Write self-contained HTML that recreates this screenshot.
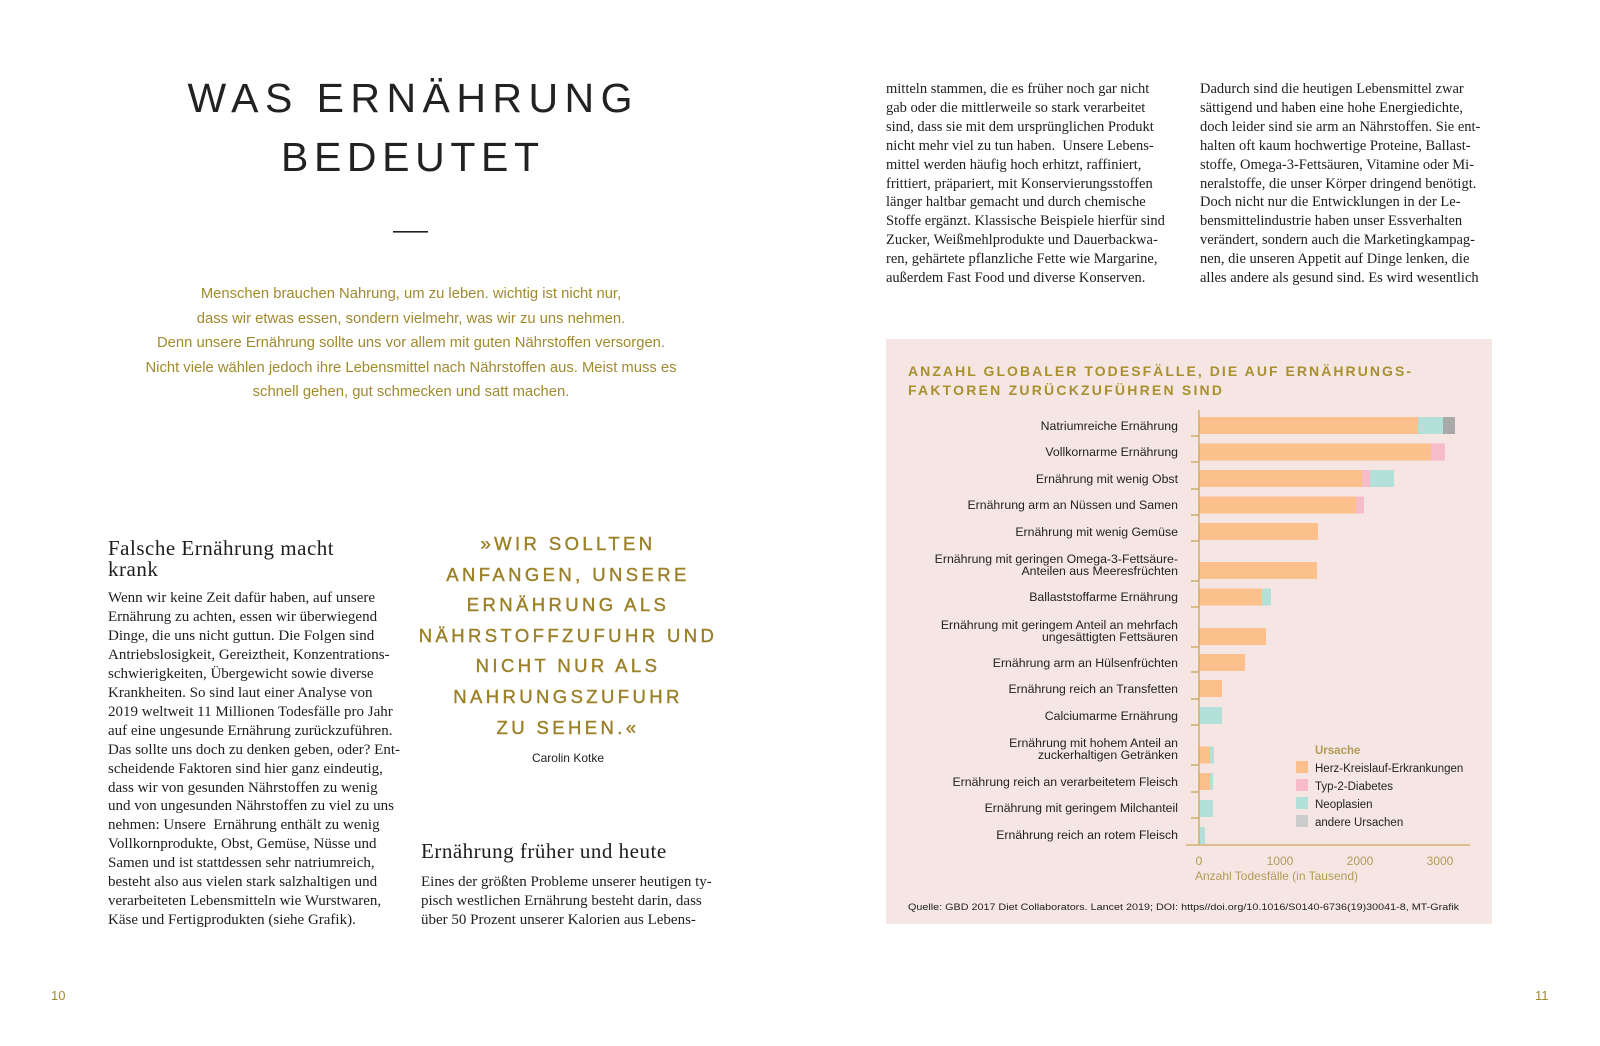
<!DOCTYPE html>
<html><head><meta charset="utf-8">
<style>
body{margin:0;background:#fff;}
#p{position:relative;width:1600px;height:1046px;overflow:hidden;background:#fff;}
.a{position:absolute;white-space:nowrap;}
.serif{font-family:"Liberation Serif",serif;color:#1e1e1e;}
.body{font-size:14.5px;line-height:18.9px;}
.body2{font-size:15px;line-height:18.95px;}
.gold{color:#a08a2e;}
.intro{font-family:"Liberation Sans",sans-serif;font-size:14.8px;line-height:24.5px;text-align:center;color:#a08a2e;}
.q{font-family:"Liberation Sans",sans-serif;font-size:18.5px;letter-spacing:3.4px;line-height:30.6px;text-align:center;color:#9c802a;-webkit-text-stroke:0.4px #9c802a;}
</style></head><body><div id="p">

<svg class="a" style="left:0;top:0" width="1600" height="1046">
<text x="410" y="112" text-anchor="middle" font-family="Liberation Sans" font-size="41" fill="#222" textLength="445" lengthAdjust="spacing">WAS ERNÄHRUNG</text>
<text x="410" y="171" text-anchor="middle" font-family="Liberation Sans" font-size="41" fill="#222" textLength="258" lengthAdjust="spacing">BEDEUTET</text>
<rect x="393" y="231" width="35" height="1.6" fill="#222"/>
</svg>

<div class="a intro" style="left:61px;top:282px;width:700px;">Menschen brauchen Nahrung, um zu leben. wichtig ist nicht nur,<br>dass wir etwas essen, sondern vielmehr, was wir zu uns nehmen.<br>Denn unsere Ernährung sollte uns vor allem mit guten Nährstoffen versorgen.<br>Nicht viele wählen jedoch ihre Lebensmittel nach Nährstoffen aus. Meist muss es<br>schnell gehen, gut schmecken und satt machen.</div>

<div class="a serif" style="left:108px;top:538px;font-size:21px;line-height:21px;letter-spacing:0.5px;">Falsche Ernährung macht<br>krank</div>
<div class="a serif body2" style="left:108px;top:589px;">Wenn wir keine Zeit dafür haben, auf unsere<br>Ernährung zu achten, essen wir überwiegend<br>Dinge, die uns nicht guttun. Die Folgen sind<br>Antriebslosigkeit, Gereiztheit, Konzentrations-<br>schwierigkeiten, Übergewicht sowie diverse<br>Krankheiten. So sind laut einer Analyse von<br>2019 weltweit 11 Millionen Todesfälle pro Jahr<br>auf eine ungesunde Ernährung zurückzuführen.<br>Das sollte uns doch zu denken geben, oder? Ent-<br>scheidende Faktoren sind hier ganz eindeutig,<br>dass wir von gesunden Nährstoffen zu wenig<br>und von ungesunden Nährstoffen zu viel zu uns<br>nehmen: Unsere&nbsp; Ernährung enthält zu wenig<br>Vollkornprodukte, Obst, Gemüse, Nüsse und<br>Samen und ist stattdessen sehr natriumreich,<br>besteht also aus vielen stark salzhaltigen und<br>verarbeiteten Lebensmitteln wie Wurstwaren,<br>Käse und Fertigprodukten (siehe Grafik).</div>

<div class="a q" style="left:408px;top:529px;width:320px;">»WIR SOLLTEN<br>ANFANGEN, UNSERE<br>ERNÄHRUNG ALS<br>NÄHRSTOFFZUFUHR UND<br>NICHT NUR ALS<br>NAHRUNGSZUFUHR<br>ZU SEHEN.«</div>
<div class="a" style="left:468px;top:751px;width:200px;text-align:center;font-family:'Liberation Sans',sans-serif;font-size:12px;color:#222;">Carolin Kotke</div>

<div class="a serif" style="left:421px;top:839px;font-size:21px;letter-spacing:0.5px;">Ernährung früher und heute</div>
<div class="a serif body2" style="left:421px;top:873px;">Eines der größten Probleme unserer heutigen ty-<br>pisch westlichen Ernährung besteht darin, dass<br>über 50 Prozent unserer Kalorien aus Lebens-</div>

<div class="a serif body" style="left:886px;top:80px;">mitteln stammen, die es früher noch gar nicht<br>gab oder die mittlerweile so stark verarbeitet<br>sind, dass sie mit dem ursprünglichen Produkt<br>nicht mehr viel zu tun haben.&nbsp; Unsere Lebens-<br>mittel werden häufig hoch erhitzt, raffiniert,<br>frittiert, präpariert, mit Konservierungsstoffen<br>länger haltbar gemacht und durch chemische<br>Stoffe ergänzt. Klassische Beispiele hierfür sind<br>Zucker, Weißmehlprodukte und Dauerbackwa-<br>ren, gehärtete pflanzliche Fette wie Margarine,<br>außerdem Fast Food und diverse Konserven.</div>
<div class="a serif body" style="left:1200px;top:80px;">Dadurch sind die heutigen Lebensmittel zwar<br>sättigend und haben eine hohe Energiedichte,<br>doch leider sind sie arm an Nährstoffen. Sie ent-<br>halten oft kaum hochwertige Proteine, Ballast-<br>stoffe, Omega-3-Fettsäuren, Vitamine oder Mi-<br>neralstoffe, die unser Körper dringend benötigt.<br>Doch nicht nur die Entwicklungen in der Le-<br>bensmittelindustrie haben unser Essverhalten<br>verändert, sondern auch die Marketingkampag-<br>nen, die unseren Appetit auf Dinge lenken, die<br>alles andere als gesund sind. Es wird wesentlich</div>

<svg class="a" style="left:0;top:0" width="1600" height="1046" font-family="Liberation Sans">
<rect x="886" y="339" width="606" height="585" fill="#f6e6e3"/>
<text x="908" y="376" font-size="14" font-weight="bold" fill="#a8902f" textLength="503" lengthAdjust="spacing">ANZAHL GLOBALER TODESFÄLLE, DIE AUF ERNÄHRUNGS-</text>
<text x="908" y="395" font-size="14" font-weight="bold" fill="#a8902f" textLength="314" lengthAdjust="spacing">FAKTOREN ZURÜCKZUFÜHREN SIND</text>
<g fill="#222" font-size="12.3" text-anchor="end">
<text x="1178" y="430">Natriumreiche Ernährung</text>
<text x="1178" y="456">Vollkornarme Ernährung</text>
<text x="1178" y="483">Ernährung mit wenig Obst</text>
<text x="1178" y="509">Ernährung arm an Nüssen und Samen</text>
<text x="1178" y="536">Ernährung mit wenig Gemüse</text>
<text x="1178" y="563">Ernährung mit geringen Omega-3-Fettsäure-</text>
<text x="1178" y="575">Anteilen aus Meeresfrüchten</text>
<text x="1178" y="601">Ballaststoffarme Ernährung</text>
<text x="1178" y="629">Ernährung mit geringem Anteil an mehrfach</text>
<text x="1178" y="641">ungesättigten Fettsäuren</text>
<text x="1178" y="667">Ernährung arm an Hülsenfrüchten</text>
<text x="1178" y="693">Ernährung reich an Transfetten</text>
<text x="1178" y="720">Calciumarme Ernährung</text>
<text x="1178" y="747">Ernährung mit hohem Anteil an</text>
<text x="1178" y="759">zuckerhaltigen Getränken</text>
<text x="1178" y="786">Ernährung reich an verarbeitetem Fleisch</text>
<text x="1178" y="812">Ernährung mit geringem Milchanteil</text>
<text x="1178" y="839">Ernährung reich an rotem Fleisch</text>
</g>
<g>
<rect x="1199" y="417" width="219" height="17" fill="#fcc08c"/><rect x="1418" y="417" width="25" height="17" fill="#b3e0d8"/><rect x="1443" y="417" width="12" height="17" fill="#a9a9a9"/>
<rect x="1199" y="443.5" width="232" height="17" fill="#fcc08c"/><rect x="1431" y="443.5" width="14" height="17" fill="#f6bdc8"/>
<rect x="1199" y="470" width="163" height="17" fill="#fcc08c"/><rect x="1362" y="470" width="8" height="17" fill="#f6bdc8"/><rect x="1370" y="470" width="24" height="17" fill="#b3e0d8"/>
<rect x="1199" y="496.5" width="157" height="17" fill="#fcc08c"/><rect x="1356" y="496.5" width="8" height="17" fill="#f6bdc8"/>
<rect x="1199" y="523" width="119" height="17" fill="#fcc08c"/>
<rect x="1199" y="562" width="118" height="17" fill="#fcc08c"/>
<rect x="1199" y="588.5" width="63" height="17" fill="#fcc08c"/><rect x="1262" y="588.5" width="9" height="17" fill="#b3e0d8"/>
<rect x="1199" y="628" width="67" height="17" fill="#fcc08c"/>
<rect x="1199" y="654" width="46" height="17" fill="#fcc08c"/>
<rect x="1199" y="680" width="23" height="17" fill="#fcc08c"/>
<rect x="1199" y="707" width="23" height="17" fill="#b3e0d8"/>
<rect x="1199" y="746.5" width="11" height="17" fill="#fcc08c"/><rect x="1210" y="746.5" width="4" height="17" fill="#b3e0d8"/>
<rect x="1199" y="773" width="11" height="17" fill="#fcc08c"/><rect x="1210" y="773" width="3" height="17" fill="#b3e0d8"/>
<rect x="1199" y="800" width="14" height="17" fill="#b3e0d8"/>
<rect x="1199" y="827" width="6" height="17" fill="#b3e0d8"/>
</g>
<g stroke="#c9a75a" stroke-width="1.3">
<line x1="1199" y1="410" x2="1199" y2="845"/>
<line x1="1186" y1="845" x2="1470" y2="845"/>
<line x1="1191" y1="436" x2="1199" y2="436"/><line x1="1191" y1="462" x2="1199" y2="462"/><line x1="1191" y1="489" x2="1199" y2="489"/><line x1="1191" y1="515" x2="1199" y2="515"/><line x1="1191" y1="541" x2="1199" y2="541"/><line x1="1191" y1="581" x2="1199" y2="581"/><line x1="1191" y1="607" x2="1199" y2="607"/><line x1="1191" y1="647" x2="1199" y2="647"/><line x1="1191" y1="672" x2="1199" y2="672"/><line x1="1191" y1="699" x2="1199" y2="699"/><line x1="1191" y1="725" x2="1199" y2="725"/><line x1="1191" y1="765" x2="1199" y2="765"/><line x1="1191" y1="792" x2="1199" y2="792"/><line x1="1191" y1="818" x2="1199" y2="818"/>
</g>
<g fill="#b39a55" font-size="12" text-anchor="middle">
<text x="1199" y="865">0</text><text x="1280" y="865">1000</text><text x="1360" y="865">2000</text><text x="1440" y="865">3000</text>
</g>
<text x="1195" y="880" fill="#b39a55" font-size="12">Anzahl Todesfälle (in Tausend)</text>
<text x="1315" y="754" fill="#b39a55" font-size="11.5" font-weight="bold">Ursache</text>
<g font-size="11.5" fill="#222">
<rect x="1296" y="761" width="12" height="12" fill="#fcc08c"/><text x="1315" y="772">Herz-Kreislauf-Erkrankungen</text>
<rect x="1296" y="779" width="12" height="12" fill="#f6bdc8"/><text x="1315" y="790">Typ-2-Diabetes</text>
<rect x="1296" y="797" width="12" height="12" fill="#b3e0d8"/><text x="1315" y="808">Neoplasien</text>
<rect x="1296" y="815" width="12" height="12" fill="#cccccc"/><text x="1315" y="826">andere Ursachen</text>
</g>
<text x="908" y="910" font-size="9.6" fill="#222" textLength="551" lengthAdjust="spacingAndGlyphs">Quelle: GBD 2017 Diet Collaborators. Lancet 2019; DOI: https//doi.org/10.1016/S0140-6736(19)30041-8, MT-Grafik</text>
</svg>

<div class="a gold" style="left:51px;top:988px;font-family:'Liberation Sans',sans-serif;font-size:13px;">10</div>
<div class="a gold" style="left:1535px;top:988px;font-family:'Liberation Sans',sans-serif;font-size:13px;">11</div>
</div></body></html>
